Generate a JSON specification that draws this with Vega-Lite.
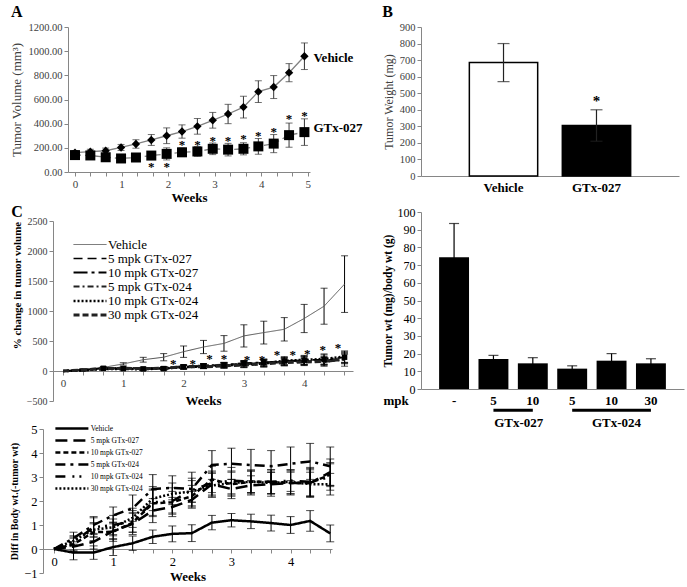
{
"$schema": "https://vega.github.io/schema/vega-lite/v6.json",
"background": "white",
"padding": {"left": 4, "top": 4, "right": 2, "bottom": 0},
"config": {
  "font": "Liberation Serif",
  "view": {"stroke": null},
  "axis": {"labelFont": "Liberation Serif", "titleFont": "Liberation Serif", "domainColor": "#868686", "tickColor": "#868686", "grid": false, "tickSize": 4, "labelColor": "#404040", "titleColor": "black"},
  "title": {"font": "Liberation Serif", "fontSize": 16, "fontWeight": "bold", "anchor": "start", "color": "black", "offset": 2},
  "legend": {"labelFont": "Liberation Serif"},
  "text": {"font": "Liberation Serif"}
},
"datasets": {
  "a": [
    {"s":"Vehicle","w":0,"v":160,"e":18},{"s":"Vehicle","w":0.33,"v":168,"e":20},{"s":"Vehicle","w":0.66,"v":176,"e":22},{"s":"Vehicle","w":0.99,"v":203,"e":25},{"s":"Vehicle","w":1.31,"v":232,"e":35},{"s":"Vehicle","w":1.64,"v":265,"e":45},{"s":"Vehicle","w":1.97,"v":300,"e":65},{"s":"Vehicle","w":2.3,"v":335,"e":55},{"s":"Vehicle","w":2.63,"v":378,"e":65},{"s":"Vehicle","w":2.96,"v":428,"e":65},{"s":"Vehicle","w":3.29,"v":480,"e":80},{"s":"Vehicle","w":3.62,"v":537,"e":90},{"s":"Vehicle","w":3.94,"v":665,"e":90},{"s":"Vehicle","w":4.27,"v":703,"e":95},{"s":"Vehicle","w":4.6,"v":822,"e":75},{"s":"Vehicle","w":4.93,"v":958,"e":110},
    {"s":"GTx-027","w":0,"v":140,"e":20},{"s":"GTx-027","w":0.33,"v":137,"e":20},{"s":"GTx-027","w":0.66,"v":122,"e":18},{"s":"GTx-027","w":0.99,"v":112,"e":15},{"s":"GTx-027","w":1.31,"v":120,"e":15},{"s":"GTx-027","w":1.64,"v":136,"e":20},{"s":"GTx-027","w":1.97,"v":150,"e":50},{"s":"GTx-027","w":2.3,"v":163,"e":35},{"s":"GTx-027","w":2.63,"v":170,"e":40},{"s":"GTx-027","w":2.96,"v":192,"e":48},{"s":"GTx-027","w":3.29,"v":185,"e":52},{"s":"GTx-027","w":3.62,"v":192,"e":50},{"s":"GTx-027","w":3.94,"v":212,"e":65},{"s":"GTx-027","w":4.27,"v":235,"e":75},{"s":"GTx-027","w":4.6,"v":305,"e":100},{"s":"GTx-027","w":4.93,"v":330,"e":110}
  ],
  "as": [
    {"w":1.64,"v":69},{"w":1.97,"v":69},{"w":2.3,"v":248},{"w":2.63,"v":248},{"w":2.96,"v":281},{"w":3.29,"v":281},{"w":3.62,"v":295},{"w":3.94,"v":322},{"w":4.27,"v":353},{"w":4.6,"v":460},{"w":4.93,"v":488}
  ],
  "al": [{"w":4.93,"v":945,"t":"Vehicle"},{"w":4.93,"v":362,"t":"GTx-027"}],
  "b": [{"g":"Vehicle","v":685,"e":115},{"g":"GTx-027","v":305,"e":95}],
  "bs": [{"g":"GTx-027","v":470}],
  "c": [
    {"s":"Vehicle","w":0,"v":0,"e":0},{"s":"Vehicle","w":0.33,"v":30,"e":10},{"s":"Vehicle","w":0.67,"v":60,"e":15},{"s":"Vehicle","w":1,"v":118,"e":20},{"s":"Vehicle","w":1.33,"v":188,"e":40},{"s":"Vehicle","w":1.67,"v":230,"e":60},{"s":"Vehicle","w":2,"v":322,"e":95},{"s":"Vehicle","w":2.33,"v":400,"e":110},{"s":"Vehicle","w":2.67,"v":460,"e":130},{"s":"Vehicle","w":3,"v":585,"e":185},{"s":"Vehicle","w":3.33,"v":640,"e":190},{"s":"Vehicle","w":3.67,"v":695,"e":195},{"s":"Vehicle","w":4,"v":875,"e":235},{"s":"Vehicle","w":4.33,"v":1080,"e":300},{"s":"Vehicle","w":4.67,"v":1448,"e":472},
    {"s":"5 mpk GTx-027","w":0,"v":0,"e":0},{"s":"5 mpk GTx-027","w":0.33,"v":15,"e":10},{"s":"5 mpk GTx-027","w":0.67,"v":50,"e":15},{"s":"5 mpk GTx-027","w":1,"v":45,"e":20},{"s":"5 mpk GTx-027","w":1.33,"v":40,"e":20},{"s":"5 mpk GTx-027","w":1.67,"v":35,"e":20},{"s":"5 mpk GTx-027","w":2,"v":60,"e":35},{"s":"5 mpk GTx-027","w":2.33,"v":80,"e":35},{"s":"5 mpk GTx-027","w":2.67,"v":95,"e":40},{"s":"5 mpk GTx-027","w":3,"v":120,"e":50},{"s":"5 mpk GTx-027","w":3.33,"v":140,"e":55},{"s":"5 mpk GTx-027","w":3.67,"v":160,"e":60},{"s":"5 mpk GTx-027","w":4,"v":170,"e":70},{"s":"5 mpk GTx-027","w":4.33,"v":175,"e":70},{"s":"5 mpk GTx-027","w":4.67,"v":215,"e":85},
    {"s":"10 mpk GTx-027","w":0,"v":0,"e":0},{"s":"10 mpk GTx-027","w":0.33,"v":12,"e":10},{"s":"10 mpk GTx-027","w":0.67,"v":45,"e":15},{"s":"10 mpk GTx-027","w":1,"v":40,"e":15},{"s":"10 mpk GTx-027","w":1.33,"v":35,"e":20},{"s":"10 mpk GTx-027","w":1.67,"v":40,"e":25},{"s":"10 mpk GTx-027","w":2,"v":70,"e":30},{"s":"10 mpk GTx-027","w":2.33,"v":85,"e":35},{"s":"10 mpk GTx-027","w":2.67,"v":100,"e":40},{"s":"10 mpk GTx-027","w":3,"v":130,"e":45},{"s":"10 mpk GTx-027","w":3.33,"v":145,"e":55},{"s":"10 mpk GTx-027","w":3.67,"v":165,"e":60},{"s":"10 mpk GTx-027","w":4,"v":180,"e":70},{"s":"10 mpk GTx-027","w":4.33,"v":190,"e":80},{"s":"10 mpk GTx-027","w":4.67,"v":230,"e":90},
    {"s":"5 mpk GTx-024","w":0,"v":0,"e":0},{"s":"5 mpk GTx-024","w":0.33,"v":20,"e":8},{"s":"5 mpk GTx-024","w":0.67,"v":40,"e":12},{"s":"5 mpk GTx-024","w":1,"v":50,"e":15},{"s":"5 mpk GTx-024","w":1.33,"v":45,"e":18},{"s":"5 mpk GTx-024","w":1.67,"v":50,"e":20},{"s":"5 mpk GTx-024","w":2,"v":75,"e":30},{"s":"5 mpk GTx-024","w":2.33,"v":90,"e":35},{"s":"5 mpk GTx-024","w":2.67,"v":105,"e":40},{"s":"5 mpk GTx-024","w":3,"v":115,"e":45},{"s":"5 mpk GTx-024","w":3.33,"v":130,"e":55},{"s":"5 mpk GTx-024","w":3.67,"v":150,"e":60},{"s":"5 mpk GTx-024","w":4,"v":165,"e":65},{"s":"5 mpk GTx-024","w":4.33,"v":150,"e":70},{"s":"5 mpk GTx-024","w":4.67,"v":190,"e":110},
    {"s":"10 mpk GTx-024","w":0,"v":0,"e":0},{"s":"10 mpk GTx-024","w":0.33,"v":10,"e":10},{"s":"10 mpk GTx-024","w":0.67,"v":35,"e":12},{"s":"10 mpk GTx-024","w":1,"v":35,"e":18},{"s":"10 mpk GTx-024","w":1.33,"v":30,"e":20},{"s":"10 mpk GTx-024","w":1.67,"v":45,"e":22},{"s":"10 mpk GTx-024","w":2,"v":65,"e":30},{"s":"10 mpk GTx-024","w":2.33,"v":75,"e":35},{"s":"10 mpk GTx-024","w":2.67,"v":90,"e":45},{"s":"10 mpk GTx-024","w":3,"v":110,"e":50},{"s":"10 mpk GTx-024","w":3.33,"v":125,"e":60},{"s":"10 mpk GTx-024","w":3.67,"v":170,"e":70},{"s":"10 mpk GTx-024","w":4,"v":185,"e":75},{"s":"10 mpk GTx-024","w":4.33,"v":200,"e":85},{"s":"10 mpk GTx-024","w":4.67,"v":240,"e":95},
    {"s":"30 mpk GTx-024","w":0,"v":0,"e":0},{"s":"30 mpk GTx-024","w":0.33,"v":18,"e":10},{"s":"30 mpk GTx-024","w":0.67,"v":40,"e":14},{"s":"30 mpk GTx-024","w":1,"v":45,"e":16},{"s":"30 mpk GTx-024","w":1.33,"v":40,"e":18},{"s":"30 mpk GTx-024","w":1.67,"v":45,"e":20},{"s":"30 mpk GTx-024","w":2,"v":70,"e":25},{"s":"30 mpk GTx-024","w":2.33,"v":70,"e":30},{"s":"30 mpk GTx-024","w":2.67,"v":85,"e":35},{"s":"30 mpk GTx-024","w":3,"v":100,"e":45},{"s":"30 mpk GTx-024","w":3.33,"v":120,"e":50},{"s":"30 mpk GTx-024","w":3.67,"v":140,"e":55},{"s":"30 mpk GTx-024","w":4,"v":150,"e":60},{"s":"30 mpk GTx-024","w":4.33,"v":160,"e":70},{"s":"30 mpk GTx-024","w":4.67,"v":200,"e":80}
  ],
  "cs": [
    {"w":1.83,"v":160},{"w":2.15,"v":160},{"w":2.43,"v":250},{"w":2.67,"v":250},{"w":3.05,"v":240},{"w":3.3,"v":240},{"w":3.55,"v":320},{"w":3.81,"v":320},{"w":4.05,"v":328},{"w":4.31,"v":400},{"w":4.56,"v":439}
  ],
  "d": [
    {"k":"a|-","v":74.5,"e":19},{"k":"b|5","v":17,"e":2},{"k":"c|10","v":14.5,"e":3.2},{"k":"d|5","v":11.5,"e":1.6},{"k":"e|10","v":16,"e":4},{"k":"f|30","v":14.5,"e":2.6}
  ],
  "dg": [
    {"k":"b|5","k2":"c|10","v":-12},{"k":"d|5","k2":"f|30","v":-12}
  ],
  "dt": [
    {"k":"c|10","v":-19,"t":"GTx-027"},{"k":"e|10","v":-19,"t":"GTx-024"}
  ],
  "e": [
    {"s":"Vehicle","w":0,"v":0,"e":0},{"s":"Vehicle","w":0.33,"v":-0.15,"e":0.3},{"s":"Vehicle","w":0.67,"v":-0.15,"e":0.28},{"s":"Vehicle","w":1,"v":0.08,"e":0.35},{"s":"Vehicle","w":1.33,"v":0.24,"e":0.3},{"s":"Vehicle","w":1.67,"v":0.51,"e":0.28},{"s":"Vehicle","w":2,"v":0.63,"e":0.33},{"s":"Vehicle","w":2.33,"v":0.66,"e":0.35},{"s":"Vehicle","w":2.67,"v":1.1,"e":0.3},{"s":"Vehicle","w":3,"v":1.2,"e":0.28},{"s":"Vehicle","w":3.33,"v":1.15,"e":0.3},{"s":"Vehicle","w":3.67,"v":1.08,"e":0.33},{"s":"Vehicle","w":4,"v":1.0,"e":0.35},{"s":"Vehicle","w":4.33,"v":1.17,"e":0.43},{"s":"Vehicle","w":4.67,"v":0.65,"e":0.35},
    {"s":"5 mpk GTx-027","w":0,"v":0,"e":0},{"s":"5 mpk GTx-027","w":0.33,"v":0.1,"e":0.2},{"s":"5 mpk GTx-027","w":0.67,"v":0.3,"e":0.3},{"s":"5 mpk GTx-027","w":1,"v":0.75,"e":0.35},{"s":"5 mpk GTx-027","w":1.33,"v":1.05,"e":0.45},{"s":"5 mpk GTx-027","w":1.67,"v":1.6,"e":0.5},{"s":"5 mpk GTx-027","w":2,"v":1.75,"e":0.4},{"s":"5 mpk GTx-027","w":2.33,"v":2.05,"e":0.35},{"s":"5 mpk GTx-027","w":2.67,"v":2.7,"e":0.5},{"s":"5 mpk GTx-027","w":3,"v":2.5,"e":0.4},{"s":"5 mpk GTx-027","w":3.33,"v":2.65,"e":0.4},{"s":"5 mpk GTx-027","w":3.67,"v":2.7,"e":0.5},{"s":"5 mpk GTx-027","w":4,"v":2.75,"e":0.45},{"s":"5 mpk GTx-027","w":4.33,"v":2.75,"e":0.6},{"s":"5 mpk GTx-027","w":4.67,"v":3.2,"e":0.55},
    {"s":"10 mpk GTx-027","w":0,"v":0,"e":0},{"s":"10 mpk GTx-027","w":0.33,"v":0.2,"e":0.25},{"s":"10 mpk GTx-027","w":0.67,"v":0.7,"e":0.35},{"s":"10 mpk GTx-027","w":1,"v":0.72,"e":0.4},{"s":"10 mpk GTx-027","w":1.33,"v":1.1,"e":0.4},{"s":"10 mpk GTx-027","w":1.67,"v":1.9,"e":0.55},{"s":"10 mpk GTx-027","w":2,"v":1.95,"e":0.45},{"s":"10 mpk GTx-027","w":2.33,"v":2.2,"e":0.45},{"s":"10 mpk GTx-027","w":2.67,"v":2.9,"e":0.55},{"s":"10 mpk GTx-027","w":3,"v":2.7,"e":0.5},{"s":"10 mpk GTx-027","w":3.33,"v":2.8,"e":0.45},{"s":"10 mpk GTx-027","w":3.67,"v":2.8,"e":0.5},{"s":"10 mpk GTx-027","w":4,"v":2.75,"e":0.5},{"s":"10 mpk GTx-027","w":4.33,"v":2.75,"e":0.55},{"s":"10 mpk GTx-027","w":4.67,"v":3.1,"e":0.5},
    {"s":"5 mpk GTx-024","w":0,"v":0,"e":0},{"s":"5 mpk GTx-024","w":0.33,"v":0.45,"e":0.25},{"s":"5 mpk GTx-024","w":0.67,"v":1.0,"e":0.35},{"s":"5 mpk GTx-024","w":1,"v":1.4,"e":0.35},{"s":"5 mpk GTx-024","w":1.33,"v":1.7,"e":0.55},{"s":"5 mpk GTx-024","w":1.67,"v":2.5,"e":0.6},{"s":"5 mpk GTx-024","w":2,"v":2.55,"e":0.5},{"s":"5 mpk GTx-024","w":2.33,"v":2.5,"e":0.7},{"s":"5 mpk GTx-024","w":2.67,"v":3.5,"e":0.6},{"s":"5 mpk GTx-024","w":3,"v":3.55,"e":0.65},{"s":"5 mpk GTx-024","w":3.33,"v":3.5,"e":0.65},{"s":"5 mpk GTx-024","w":3.67,"v":3.45,"e":0.65},{"s":"5 mpk GTx-024","w":4,"v":3.55,"e":0.7},{"s":"5 mpk GTx-024","w":4.33,"v":3.65,"e":0.75},{"s":"5 mpk GTx-024","w":4.67,"v":3.45,"e":0.8},
    {"s":"10 mpk GTx-024","w":0,"v":0,"e":0},{"s":"10 mpk GTx-024","w":0.33,"v":0.3,"e":0.2},{"s":"10 mpk GTx-024","w":0.67,"v":0.9,"e":0.4},{"s":"10 mpk GTx-024","w":1,"v":1.0,"e":0.4},{"s":"10 mpk GTx-024","w":1.33,"v":1.15,"e":0.45},{"s":"10 mpk GTx-024","w":1.67,"v":1.95,"e":0.55},{"s":"10 mpk GTx-024","w":2,"v":2.0,"e":0.55},{"s":"10 mpk GTx-024","w":2.33,"v":2.45,"e":0.5},{"s":"10 mpk GTx-024","w":2.67,"v":2.75,"e":0.5},{"s":"10 mpk GTx-024","w":3,"v":2.85,"e":0.55},{"s":"10 mpk GTx-024","w":3.33,"v":2.8,"e":0.5},{"s":"10 mpk GTx-024","w":3.67,"v":2.8,"e":0.5},{"s":"10 mpk GTx-024","w":4,"v":2.85,"e":0.45},{"s":"10 mpk GTx-024","w":4.33,"v":2.8,"e":0.6},{"s":"10 mpk GTx-024","w":4.67,"v":3.0,"e":0.55},
    {"s":"30 mpk GTx-024","w":0,"v":0,"e":0},{"s":"30 mpk GTx-024","w":0.33,"v":0.35,"e":0.2},{"s":"30 mpk GTx-024","w":0.67,"v":0.8,"e":0.3},{"s":"30 mpk GTx-024","w":1,"v":0.9,"e":0.35},{"s":"30 mpk GTx-024","w":1.33,"v":1.3,"e":0.4},{"s":"30 mpk GTx-024","w":1.67,"v":2.1,"e":0.5},{"s":"30 mpk GTx-024","w":2,"v":2.3,"e":0.45},{"s":"30 mpk GTx-024","w":2.33,"v":2.4,"e":0.45},{"s":"30 mpk GTx-024","w":2.67,"v":2.65,"e":0.5},{"s":"30 mpk GTx-024","w":3,"v":2.75,"e":0.5},{"s":"30 mpk GTx-024","w":3.33,"v":2.8,"e":0.45},{"s":"30 mpk GTx-024","w":3.67,"v":2.75,"e":0.45},{"s":"30 mpk GTx-024","w":4,"v":2.8,"e":0.5},{"s":"30 mpk GTx-024","w":4.33,"v":2.7,"e":0.5},{"s":"30 mpk GTx-024","w":4.67,"v":2.7,"e":0.45}
  ]
},
"spacing": 19,
"resolve": {"scale": {"strokeDash": "independent", "strokeWidth": "independent", "color": "independent", "fill": "independent"}, "legend": {"strokeDash": "independent", "strokeWidth": "independent", "color": "independent"}},
"hconcat": [
  {
    "concat": [
      {
        "hconcat": [
          {"width": 6, "height": 1, "data": {"values": []}, "mark": "point"},
          {
            "title": {"text": "A"},
            "width": 242, "height": 145,
            "data": {"name": "a"},
            "encoding": {
              "x": {"field": "w", "type": "quantitative", "scale": {"domain": [-0.15, 5.05], "nice": false, "zero": false},
                "axis": {"title": "Weeks", "titleFontSize": 13, "titleFontWeight": "bold", "titlePadding": 2, "values": [0,0.333,0.667,1,1.333,1.667,2,2.333,2.667,3,3.333,3.667,4,4.333,4.667,5], "labelExpr": "datum.value % 1 == 0 ? format(datum.value, 'd') : ''", "labelOverlap": false, "labelFontSize": 11}},
              "y": {"field": "v", "type": "quantitative", "scale": {"domain": [0, 1200], "nice": false},
                "axis": {"title": "Tumor Volume (mm³)", "titleFontSize": 13, "titleFontWeight": "normal", "titleColor": "#404040", "values": [0,200,400,600,800,1000,1200], "format": ".2f", "labelFontSize": 10.5, "labelOverlap": false}}
            },
            "layer": [
              {"transform": [{"filter": "datum.e > 0"}], "mark": {"type": "errorbar", "ticks": {"size": 7, "color": "#333"}, "color": "#333", "thickness": 1}, "encoding": {"yError": {"field": "e"}}},
              {"transform": [{"filter": "datum.s == 'Vehicle'"}], "mark": {"type": "line", "color": "#808080", "strokeWidth": 1.3}},
              {"transform": [{"filter": "datum.s == 'GTx-027'"}], "mark": {"type": "line", "color": "#808080", "strokeWidth": 1.3, "strokeDash": [6, 4]}},
              {"transform": [{"filter": "datum.s == 'Vehicle'"}], "mark": {"type": "point", "shape": "diamond", "filled": true, "color": "black", "opacity": 1, "size": 70}},
              {"transform": [{"filter": "datum.s == 'GTx-027'"}], "mark": {"type": "point", "shape": "square", "filled": true, "color": "black", "opacity": 1, "size": 100}},
              {"data": {"name": "as"}, "mark": {"type": "text", "text": "*", "fontSize": 13, "fontWeight": "bold", "dy": 3, "color": "black"}},
              {"data": {"name": "al"}, "mark": {"type": "text", "align": "left", "dx": 9, "fontSize": 13, "fontWeight": "bold", "color": "black"}, "encoding": {"text": {"field": "t"}}}
            ]
          }
        ],
        "spacing": 0
      },
      {
        "concat": [
          {
            "hconcat": [
              {"width": 7, "height": 1, "data": {"values": []}, "mark": "point"},
              {
                "title": {"text": "C", "offset": -4},
                "width": 300, "height": 180,
                "data": {"name": "c"},
                "encoding": {
                  "x": {"field": "w", "type": "quantitative", "scale": {"domain": [-0.166, 4.81], "nice": false, "zero": false},
                    "axis": {"title": "Weeks", "titleFontSize": 13, "titleFontWeight": "bold", "titlePadding": 6, "offset": -30, "values": [0,0.333,0.667,1,1.333,1.667,2,2.333,2.667,3,3.333,3.667,4,4.333,4.667], "labelExpr": "datum.value % 1 == 0 ? format(datum.value, 'd') : ''", "labelOverlap": false, "labelFontSize": 11}},
                  "y": {"field": "v", "type": "quantitative", "scale": {"domain": [-500, 2500], "nice": false},
                    "axis": {"title": "% change in tumor volume", "titleFontSize": 11, "titleFontWeight": "bold", "titleY": 64, "values": [-500,0,500,1000,1500,2000,2500], "format": "d", "labelFontSize": 10, "labelOverlap": false}}
                },
                "layer": [
                  {"transform": [{"filter": "datum.e > 0"}], "mark": {"type": "errorbar", "ticks": {"size": 7, "color": "black"}, "color": "black", "thickness": 1}, "encoding": {"yError": {"field": "e"}}},
                  {"mark": {"type": "line"},
                   "encoding": {
                     "strokeDash": {"field": "s", "type": "nominal", "scale": {"domain": ["Vehicle","5 mpk GTx-027","10 mpk GTx-027","5 mpk GTx-024","10 mpk GTx-024","30 mpk GTx-024"], "range": [[1,0],[9,5],[14,4,3,4],[6,3,2,3],[2,2],[6,3]]},
                       "legend": {"title": null, "orient": "none", "legendX": 79, "legendY": 17, "padding": 0, "symbolType": "M-3.14,0L3.14,0", "symbolSize": 110, "labelFontSize": 13, "labelColor": "black", "rowPadding": 0, "labelOffset": 11, "labelLimit": 200}},
                     "strokeWidth": {"field": "s", "type": "nominal", "scale": {"domain": ["Vehicle","5 mpk GTx-027","10 mpk GTx-027","5 mpk GTx-024","10 mpk GTx-024","30 mpk GTx-024"], "range": [1, 3, 3.5, 1, 2.5, 1]}},
                     "color": {"field": "s", "type": "nominal", "scale": {"domain": ["Vehicle","5 mpk GTx-027","10 mpk GTx-027","5 mpk GTx-024","10 mpk GTx-024","30 mpk GTx-024"], "range": ["#555555","black","black","#222222","black","#222222"]}}}},
                  {"transform": [{"filter": "datum.s == '10 mpk GTx-027' && datum.w > 0.5"}], "mark": {"type": "square", "color": "black", "opacity": 1, "size": 30}},
                  {"data": {"name": "cs"}, "mark": {"type": "text", "text": "*", "fontSize": 13, "fontWeight": "bold", "dy": 3, "color": "black"}}
                ]
              }
            ],
            "spacing": 0
          },
          {
            "hconcat": [
              {"width": 5, "height": 1, "data": {"values": []}, "mark": "point"},
              {
                "width": 289, "height": 144,
                "data": {"name": "e"},
                "encoding": {
                  "x": {"field": "w", "type": "quantitative", "scale": {"domain": [-0.186, 4.70], "nice": false, "zero": false},
                    "axis": {"title": "Weeks", "titleFontSize": 13, "titleFontWeight": "bold", "titlePadding": 3, "offset": -24, "values": [0,0.333,0.667,1,1.333,1.667,2,2.333,2.667,3,3.333,3.667,4,4.333,4.667], "labelExpr": "datum.value % 1 == 0 ? format(datum.value, 'd') : ''", "labelOverlap": false, "labelFontSize": 12.5, "labelColor": "black"}},
                  "y": {"field": "v", "type": "quantitative", "scale": {"domain": [-1, 5], "nice": false},
                    "axis": {"title": "Diff in Body wt.(-tumor wt)", "titleFontSize": 10, "titleFontWeight": "bold", "values": [-1,0,1,2,3,4,5], "labelFontSize": 12.5, "labelColor": "black", "labelOverlap": false}}
                },
                "layer": [
                  {"transform": [{"filter": "datum.e > 0"}], "mark": {"type": "errorbar", "ticks": {"size": 8, "color": "black"}, "color": "black", "thickness": 1}, "encoding": {"yError": {"field": "e"}}},
                  {"mark": {"type": "line"},
                   "encoding": {
                     "strokeDash": {"field": "s", "type": "nominal", "scale": {"domain": ["Vehicle","5 mpk GTx-027","10 mpk GTx-027","5 mpk GTx-024","10 mpk GTx-024","30 mpk GTx-024"], "range": [[1,0],[12,6],[5,3],[10,5,3,5],[10,7,2,5,2,7],[2,2]]},
                       "legend": {"title": null, "orient": "none", "legendX": 61.4, "legendY": -7, "padding": 0, "symbolType": "M-3.37,0L3.37,0", "symbolSize": 96, "labelFontSize": 7.5, "labelColor": "black", "rowPadding": 0, "labelOffset": 12.3, "labelLimit": 200}},
                     "strokeWidth": {"field": "s", "type": "nominal", "scale": {"domain": ["Vehicle","5 mpk GTx-027","10 mpk GTx-027","5 mpk GTx-024","10 mpk GTx-024","30 mpk GTx-024"], "range": [2.5, 2.5, 2.5, 2.5, 2, 2]}},
                     "color": {"field": "s", "type": "nominal", "scale": {"domain": ["Vehicle","5 mpk GTx-027","10 mpk GTx-027","5 mpk GTx-024","10 mpk GTx-024","30 mpk GTx-024"], "range": ["black","black","black","black","black","black"]}}}}
                ]
              }
            ],
            "spacing": 0
          }
        ],
        "columns": 1,
        "spacing": 15,
        "resolve": {"scale": {"strokeDash": "independent", "strokeWidth": "independent", "color": "independent"}, "legend": {"strokeDash": "independent", "strokeWidth": "independent", "color": "independent"}}
      }
    ],
    "columns": 1,
    "spacing": 0,
    "resolve": {"scale": {"strokeDash": "independent", "strokeWidth": "independent", "color": "independent"}, "legend": {"strokeDash": "independent", "strokeWidth": "independent", "color": "independent"}}
  },
  {
    "concat": [
      {
        "title": {"text": "B"},
        "width": 258, "height": 149,
        "encoding": {
          "x": {"field": "g", "type": "nominal", "sort": null, "scale": {"domain": ["Vehicle","GTx-027"], "paddingInner": 0.265, "paddingOuter": 0.52},
            "axis": {"title": null, "labelAngle": 0, "labelFontSize": 13, "labelFontWeight": "bold", "labelColor": "black", "ticks": false, "labelPadding": 5}},
          "y": {"field": "v", "type": "quantitative", "scale": {"domain": [0, 900], "nice": false},
            "axis": {"title": "Tumor Weight (mg)", "titleFontSize": 12, "titleFontWeight": "normal", "titleColor": "#404040", "values": [0,100,200,300,400,500,600,700,800,900], "labelFontSize": 10.5, "labelOverlap": false}}
        },
        "layer": [
          {"data": {"name": "b"}, "mark": {"type": "bar", "stroke": "black", "strokeWidth": 1.5},
           "encoding": {"fill": {"field": "g", "type": "nominal", "scale": {"domain": ["Vehicle","GTx-027"], "range": ["white","black"]}, "legend": null}}},
          {"data": {"name": "b"}, "mark": {"type": "errorbar", "ticks": {"size": 12, "color": "#222"}, "color": "#222", "thickness": 1.2}, "encoding": {"yError": {"field": "e"}}},
          {"data": {"name": "bs"}, "mark": {"type": "text", "text": "*", "fontSize": 15, "fontWeight": "bold", "dy": 3, "color": "black"}}
        ]
      },
      {
        "width": 263, "height": 177,
        "encoding": {
          "x": {"field": "k", "type": "nominal", "sort": null, "scale": {"domain": ["a|-","b|5","c|10","d|5","e|10","f|30"], "paddingInner": 0.24, "paddingOuter": 0.46},
            "axis": {"title": "mpk", "labelExpr": "split(datum.value, '|')[1]", "labelAngle": 0, "labelFontSize": 13, "labelFontWeight": "bold", "labelColor": "black", "ticks": false, "labelPadding": 5, "titleX": -38, "titleY": 11, "titleAlign": "left", "titleBaseline": "middle", "titleFontSize": 13, "titleFontWeight": "bold"}},
          "y": {"field": "v", "type": "quantitative", "scale": {"domain": [0, 100], "nice": false},
            "axis": {"title": "Tumor wt (mg)/body wt (g)", "titleFontSize": 11.5, "titleFontWeight": "bold", "values": [0,10,20,30,40,50,60,70,80,90,100], "labelFontSize": 12, "labelColor": "black", "labelOverlap": false}}
        },
        "layer": [
          {"data": {"name": "d"}, "mark": {"type": "bar", "color": "black"}},
          {"data": {"name": "d"}, "mark": {"type": "errorbar", "ticks": {"size": 10, "color": "black"}, "color": "black", "thickness": 1.2}, "encoding": {"yError": {"field": "e"}}},
          {"data": {"name": "dg"}, "mark": {"type": "rule", "strokeWidth": 3, "color": "black"}, "encoding": {"x2": {"field": "k2"}}},
          {"data": {"name": "dt"}, "transform": [{"filter": "datum.t == 'GTx-027'"}], "mark": {"type": "text", "fontSize": 13, "fontWeight": "bold", "color": "black", "dx": -14}, "encoding": {"text": {"field": "t"}}},
          {"data": {"name": "dt"}, "transform": [{"filter": "datum.t == 'GTx-024'"}], "mark": {"type": "text", "fontSize": 13, "fontWeight": "bold", "color": "black", "dx": 5}, "encoding": {"text": {"field": "t"}}}
        ]
      }
    ],
    "columns": 1,
    "spacing": 12
  }
]
}
